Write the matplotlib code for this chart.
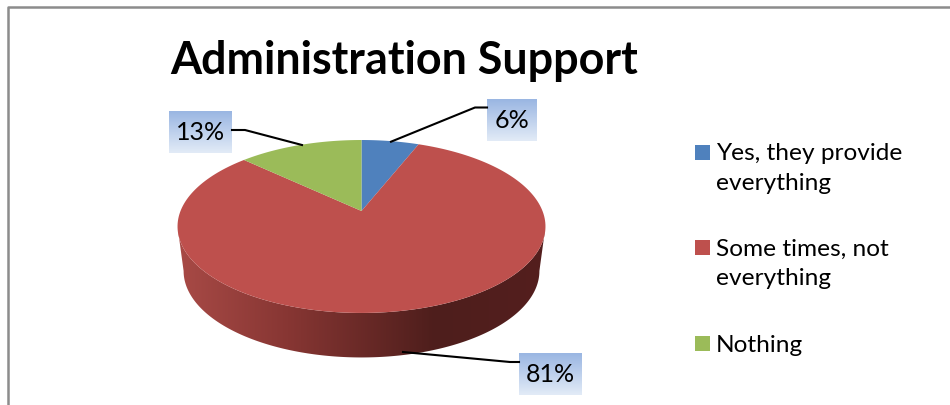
import numpy as np
import matplotlib
matplotlib.use('Agg')
import matplotlib.pyplot as plt
from matplotlib.colors import LinearSegmentedColormap
from matplotlib.patches import Polygon, Rectangle

# 数据
categories = ['Yes, they provide\neverything', 'Some times, not\neverything', 'Nothing']
values = [6, 81, 13]
colors = ['#4F81BD', '#BE504D', '#9BBB59']
title = 'Administration Support'

plt.rcParams['font.family'] = ['Lato', 'DejaVu Sans']

W, H = 950, 405
fig = plt.figure(figsize=(W / 100, H / 100), dpi=100)
ax = fig.add_axes([0, 0, 1, 1])
ax.set_xlim(0, W)
ax.set_ylim(H, 0)
ax.axis('off')

# 饼图透视参数
cx, cy = 361.5, 211
rx, k, a = 181, 0.179, 83.7
depth = 44.5


def project(theta):
    # theta 从正上方顺时针计算
    u, v = np.sin(theta), np.cos(theta)
    return cx + rx * u / (1 + k * v), cy - a * v / (1 + k * v)


def bottom_rim(theta):
    x, y = project(theta)
    return cx + (x - cx) * 0.967, y + depth


# 外框
ax.plot([7.5, 7.5, W], [H, 6.5, 6.5], color='#8c8c8c', lw=1.8, solid_capstyle='butt')

# 侧面，只画到左右最宽处，用横向渐变填充
t_widest = np.arccos(-k)
t_side = np.linspace(t_widest, 2 * np.pi - t_widest, 300)
tx, ty = project(t_side)
bx, by = bottom_rim(t_side)
side_pts = np.r_[np.c_[tx, ty], np.c_[bx, by][::-1]]
side = Polygon(side_pts, closed=True, facecolor='none', edgecolor='none')
ax.add_patch(side)
side_cmap = LinearSegmentedColormap.from_list(
    'side', [(0, '#A84A46'), (0.3, '#873633'), (0.7, '#4E1E1C'), (1, '#541F1E')])
im = ax.imshow(np.linspace(0, 1, 256)[None, :], cmap=side_cmap, aspect='auto',
               extent=[178, 545, 360, 220], zorder=1)
im.set_clip_path(side)

# 顶面扇区
start = 0.0
total = sum(values)
for val, col in zip(values, colors):
    end = start + val / total * 2 * np.pi
    t = np.linspace(start, end, 200)
    px, py = project(t)
    ax.add_patch(Polygon(np.r_[[[cx, cy]], np.c_[px, py]], closed=True,
                         facecolor=col, edgecolor='none', zorder=2))
    start = end

# 数据标签：位置、引线
label_boxes = [(487, 99, 537, 141), (519, 353, 582, 395), (169, 111, 232, 153)]
leaders = [
    [(487, 107.5), (475, 107.5), (391, 141.7)],
    [(519, 362), (510, 362), (403, 352)],
    [(232, 130), (245, 130), (302, 145)],
]
box_cmap = LinearSegmentedColormap.from_list('box', ['#9AB6E2', '#E2EBF7'])
for val, box, line in zip(values, label_boxes, leaders):
    x0, y0, x1, y1 = box
    ax.imshow(np.linspace(0, 1, 64)[:, None], cmap=box_cmap, aspect='auto',
              extent=[x0, x1, y1, y0], zorder=3)
    lx, ly = zip(*line)
    ax.plot(lx, ly, color='black', lw=1.5, zorder=3)
    ax.text((x0 + x1) / 2, (y0 + y1) / 2 + 0.5, f'{val}%', fontsize=18, color='black',
            ha='center', va='center', zorder=4)
ax.set_xlim(0, W)
ax.set_ylim(H, 0)

# 标题
ax.text(170, 61, title, fontsize=32.3, fontweight='bold', color='black', ha='left', va='center')

# 图例
legend_y = [145, 240, 336]
for name, col, ly in zip(categories, colors, legend_y):
    ax.add_patch(Rectangle((695, ly), 15, 15, facecolor=col, edgecolor='none'))
    ax.text(716, ly - 1.5, name, fontsize=17.6, color='black', ha='left', va='top', linespacing=1.52)

fig.savefig('out.png', dpi=100, facecolor='white')
